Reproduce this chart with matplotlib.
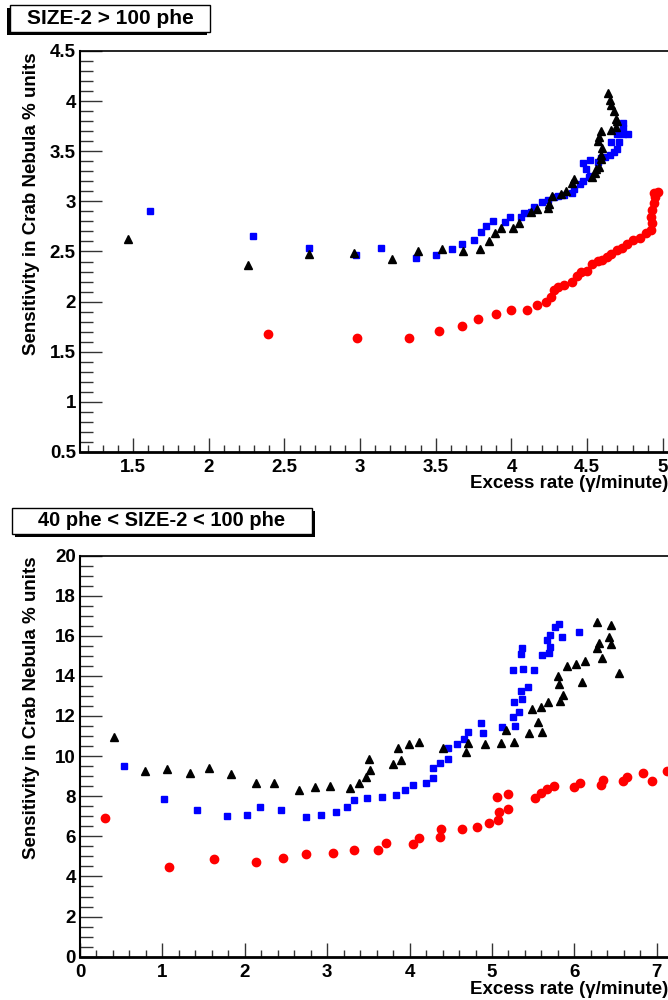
import matplotlib
matplotlib.use('Agg')
import matplotlib.pyplot as plt
from matplotlib.ticker import MultipleLocator, FormatStrFormatter
from matplotlib.patches import Rectangle

plt.rcParams['font.family'] = ['Liberation Sans', 'DejaVu Sans']
plt.rcParams['font.weight'] = 'bold'

# ---- panel 1 : SIZE-2 > 100 phe
top_red_x = [2.39, 2.98, 3.32, 3.52, 3.67, 3.78, 3.90, 4.00, 4.10, 4.17, 4.23, 4.26, 4.28, 4.31, 4.35, 4.40, 4.43, 4.46, 4.50,
             4.53, 4.57, 4.60, 4.63, 4.66, 4.70, 4.73, 4.76, 4.80, 4.85, 4.89, 4.92, 4.93, 4.92, 4.93, 4.94, 4.95, 4.97, 4.94]
top_red_y = [1.68, 1.64, 1.64, 1.71, 1.76, 1.83, 1.88, 1.92, 1.92, 1.97, 2.00, 2.05, 2.12, 2.15, 2.17, 2.20, 2.26, 2.30, 2.31,
             2.38, 2.41, 2.42, 2.45, 2.48, 2.51, 2.53, 2.57, 2.61, 2.63, 2.68, 2.71, 2.78, 2.84, 2.91, 2.98, 3.04, 3.09, 3.08]

top_blue_x = [1.61, 2.29, 2.66, 2.97, 3.14, 3.37, 3.50, 3.61, 3.67, 3.75, 3.80, 3.83, 3.88, 3.96, 3.99, 4.06, 4.08, 4.13,
              4.15, 4.20, 4.24, 4.28, 4.31, 4.35, 4.40, 4.41, 4.45, 4.47, 4.51, 4.52, 4.49, 4.47, 4.52, 4.57, 4.59, 4.62,
              4.65, 4.68, 4.70, 4.71, 4.66, 4.70, 4.74, 4.77, 4.74, 4.74]
top_blue_y = [2.90, 2.65, 2.53, 2.47, 2.53, 2.44, 2.47, 2.52, 2.57, 2.61, 2.69, 2.75, 2.80, 2.79, 2.84, 2.84, 2.88, 2.89,
              2.94, 2.99, 3.01, 3.04, 3.05, 3.06, 3.08, 3.12, 3.17, 3.20, 3.24, 3.25, 3.32, 3.38, 3.41, 3.39, 3.43, 3.44,
              3.46, 3.49, 3.52, 3.59, 3.59, 3.67, 3.67, 3.67, 3.73, 3.78]

top_black_x = [1.47, 2.26, 2.66, 2.96, 3.21, 3.38, 3.54, 3.68, 3.79, 3.85, 3.89, 3.93, 4.01, 4.05, 4.13, 4.17, 4.24, 4.25,
               4.27, 4.33, 4.36, 4.40, 4.41, 4.53, 4.55, 4.56, 4.58, 4.59, 4.59, 4.60, 4.57, 4.58, 4.59, 4.66, 4.69, 4.70,
               4.69, 4.68, 4.66, 4.65, 4.64]
top_black_y = [2.62, 2.37, 2.48, 2.49, 2.43, 2.50, 2.52, 2.50, 2.52, 2.60, 2.68, 2.73, 2.73, 2.78, 2.89, 2.92, 2.93, 2.97,
               3.05, 3.07, 3.10, 3.18, 3.22, 3.24, 3.28, 3.32, 3.34, 3.42, 3.46, 3.53, 3.60, 3.64, 3.70, 3.71, 3.74, 3.80,
               3.82, 3.90, 3.96, 4.01, 4.08]

# ---- panel 2 : 40 phe < SIZE-2 < 100 phe
bot_red_x = [0.30, 1.08, 1.63, 2.13, 2.46, 2.74, 3.07, 3.33, 3.62, 3.71, 4.04, 4.12, 4.37, 4.38, 4.64, 4.82, 4.96, 5.07,
             5.08, 5.06, 5.19, 5.19, 5.52, 5.60, 5.67, 5.75, 6.00, 6.07, 6.32, 6.35, 6.59, 6.64, 6.83, 6.94, 7.12]
bot_red_y = [6.93, 4.48, 4.87, 4.72, 4.92, 5.12, 5.17, 5.30, 5.32, 5.68, 5.63, 5.93, 5.98, 6.35, 6.35, 6.46, 6.65, 6.83,
             7.20, 7.97, 7.38, 8.09, 7.91, 8.14, 8.34, 8.52, 8.47, 8.67, 8.55, 8.80, 8.75, 8.94, 9.17, 8.77, 9.27]

bot_blue_x = [0.54, 1.02, 1.42, 1.78, 2.03, 2.18, 2.44, 2.74, 2.93, 3.11, 3.24, 3.32, 3.48, 3.67, 3.84, 3.94, 4.04, 4.20,
              4.29, 4.29, 4.37, 4.47, 4.46, 4.57, 4.66, 4.71, 4.87, 4.89, 5.12, 5.28, 5.26, 5.33, 5.27, 5.37, 5.35, 5.44,
              5.26, 5.38, 5.51, 5.35, 5.37, 5.61, 5.69, 5.70, 5.67, 5.71, 5.85, 5.77, 5.81, 6.06]
bot_blue_y = [9.52, 7.84, 7.33, 7.00, 7.08, 7.44, 7.29, 6.96, 7.06, 7.21, 7.44, 7.81, 7.92, 7.94, 8.04, 8.29, 8.56, 8.67,
              8.90, 9.39, 9.68, 9.88, 10.40, 10.61, 10.86, 11.19, 11.66, 11.17, 11.46, 11.49, 11.96, 12.19, 12.71, 12.84,
              13.27, 13.45, 14.29, 14.33, 14.29, 15.08, 15.38, 15.05, 15.13, 15.45, 15.81, 16.04, 15.93, 16.44, 16.61, 16.19]

bot_black_x = [0.41, 0.79, 1.06, 1.33, 1.56, 1.83, 2.14, 2.35, 2.66, 2.85, 3.03, 3.28, 3.39, 3.47, 3.52, 3.51, 3.80, 3.90,
               3.86, 3.99, 4.11, 4.40, 4.68, 4.71, 4.91, 5.11, 5.27, 5.17, 5.45, 5.56, 5.61, 5.48, 5.60, 5.68, 5.82, 5.86,
               5.81, 5.80, 6.09, 5.91, 6.02, 6.13, 6.27, 6.30, 6.34, 6.44, 6.42, 6.27, 6.44, 6.54]
bot_black_y = [10.93, 9.24, 9.35, 9.15, 9.42, 9.09, 8.64, 8.64, 8.32, 8.44, 8.51, 8.41, 8.64, 8.95, 9.33, 9.88, 9.61, 9.83,
               10.38, 10.58, 10.71, 10.42, 10.21, 10.63, 10.62, 10.63, 10.68, 11.30, 11.13, 11.71, 11.21, 12.33, 12.46,
               12.69, 12.76, 13.07, 13.57, 14.00, 13.70, 14.48, 14.57, 14.72, 15.37, 15.65, 14.88, 15.61, 15.95, 16.69,
               16.53, 14.12]

titles = ['SIZE-2 > 100 phe', '40 phe < SIZE-2 < 100 phe']
ylabel = 'Sensitivity in Crab Nebula % units'
xlabel = 'Excess rate (γ/minute)'

W, H = 668, 1000
fig = plt.figure(figsize=(W / 100, H / 100), dpi=100)


def px(x0, y0, x1, y1):
    # pixel box (top-left origin) -> figure fraction rect
    return [x0 / W, 1 - y1 / H, (x1 - x0) / W, (y1 - y0) / H]


def style_axes(ax, xmaj, xmin, ymaj, ymin, xfmt, yfmt):
    ax.spines['right'].set_visible(False)
    ax.spines['bottom'].set_linewidth(2)
    ax.spines['left'].set_linewidth(1.5)
    ax.spines['top'].set_linewidth(1.2)
    ax.xaxis.set_major_locator(MultipleLocator(xmaj))
    ax.xaxis.set_minor_locator(MultipleLocator(xmin))
    ax.yaxis.set_major_locator(MultipleLocator(ymaj))
    ax.yaxis.set_minor_locator(MultipleLocator(ymin))
    ax.xaxis.set_major_formatter(FormatStrFormatter(xfmt))
    ax.yaxis.set_major_formatter(FormatStrFormatter(yfmt))
    ax.tick_params(which='both', direction='in', top=False, right=False, width=1, color='#333333')
    ax.tick_params(axis='x', which='major', length=10, pad=5, labelsize=13.5)
    ax.tick_params(axis='x', which='minor', length=5)
    ax.tick_params(axis='y', which='major', length=16, pad=3, labelsize=13.5)
    ax.tick_params(axis='y', which='minor', length=9)
    for lab in ax.get_xticklabels() + ax.get_yticklabels():
        lab.set_fontweight('bold')


def title_box(x0, y0, x1, y1, text, shadow_dx, fs):
    sh = Rectangle((x0 / W + shadow_dx / W, 1 - (y1 + 3) / H), (x1 - x0) / W, (y1 - y0) / H,
                   transform=fig.transFigure, facecolor='black', edgecolor='black', lw=0)
    fig.patches.append(sh)
    bx = Rectangle((x0 / W, 1 - y1 / H), (x1 - x0) / W, (y1 - y0) / H,
                   transform=fig.transFigure, facecolor='white', edgecolor='black', lw=1)
    fig.patches.append(bx)
    fig.text((x0 + x1) / 2 / W, 1 - (y0 + y1) / 2 / H, text, ha='center', va='center',
             fontsize=fs, fontweight='bold')


# top panel
ax1 = fig.add_axes(px(80, 51, 668, 452))
ax1.plot(top_red_x, top_red_y, 'o', color='#ff0000', ms=6, mec='#ff0000', ls='none')
ax1.plot(top_blue_x, top_blue_y, 's', color='#0000ff', ms=5, mec='#0000ff', ls='none')
ax1.plot(top_black_x, top_black_y, '^', color='black', ms=5.5, mec='black', ls='none')
ax1.set_xlim(1.15, 5.034)
ax1.set_ylim(0.5, 4.5)
style_axes(ax1, 0.5, 0.1, 0.5, 0.1, '%g', '%g')

# bottom panel
ax2 = fig.add_axes(px(80, 555.5, 668, 956.7))
ax2.plot(bot_red_x, bot_red_y, 'o', color='#ff0000', ms=6, mec='#ff0000', ls='none')
ax2.plot(bot_blue_x, bot_blue_y, 's', color='#0000ff', ms=5, mec='#0000ff', ls='none')
ax2.plot(bot_black_x, bot_black_y, '^', color='black', ms=5.5, mec='black', ls='none')
ax2.set_xlim(0, 7.136)
ax2.set_ylim(0, 20)
style_axes(ax2, 1, 0.2, 2, 0.5, '%g', '%g')

# axis titles, ROOT style (right / top aligned)
fig.text(32 / W, 1 - 52 / H, ylabel, rotation=90, ha='center', va='top', fontsize=13.5, fontweight='bold')
fig.text(32 / W, 1 - 556 / H, ylabel, rotation=90, ha='center', va='top', fontsize=13.5, fontweight='bold')
fig.text(668 / W, 1 - 484 / H, xlabel, ha='right', va='center', fontsize=13.5, fontweight='bold')
fig.text(668 / W, 1 - 989 / H, xlabel, ha='right', va='center', fontsize=13.5, fontweight='bold')

title_box(10, 5, 210, 32, titles[0], -3, 15)
title_box(12, 508, 312, 534, titles[1], 3, 14.5)

fig.savefig('out.png', dpi=100)
